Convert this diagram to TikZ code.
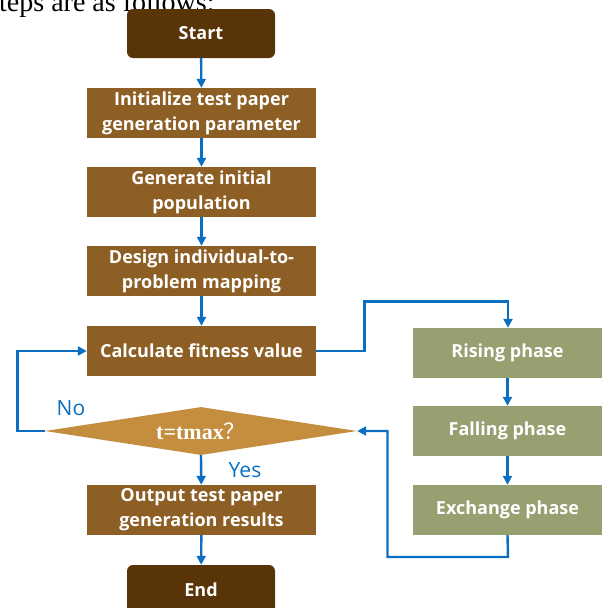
\documentclass[tikz,border=0pt]{standalone}
\usepackage{fontspec}
\setmainfont{Liberation Serif}
\newfontfamily\boxfont{Open Sans}
\newfontfamily\lblfont{Open Sans}
\newfontfamily\cjkq{Noto Sans CJK SC}
\usetikzlibrary{shapes.geometric,arrows.meta}
\definecolor{darkbrown}{HTML}{583408}
\definecolor{midbrown}{HTML}{8E5F25}
\definecolor{goldbrown}{HTML}{C48E3E}
\definecolor{olive}{HTML}{96A070}
\definecolor{lineblue}{HTML}{0A6FC2}
\tikzset{
  box/.style={rectangle, fill=midbrown, minimum width=229pt, minimum height=50pt, inner sep=0pt,
    text=white, align=center, font=\boxfont\bfseries\fontsize{18}{25}\selectfont},
  term/.style={box, fill=darkbrown, rounded corners=6pt, minimum width=148pt, minimum height=49pt},
  phase/.style={box, fill=olive, minimum width=189pt},
  decision/.style={diamond, fill=goldbrown, aspect=6.5, minimum width=312pt, minimum height=48pt, inner sep=0pt,
    text=white, font=\bfseries\fontsize{22}{24}\selectfont},
  flow/.style={draw=lineblue, line width=2.4pt, -{Triangle[length=9pt,width=9pt]}},
  lbl/.style={text=lineblue, font=\lblfont\fontsize{21}{24}\selectfont}
}
\begin{document}
\begin{tikzpicture}[x=1pt,y=-1pt]
\useasboundingbox (0,0) rectangle (604,608);
\node[anchor=base west, inner sep=0pt, font=\fontsize{28}{30}\selectfont] (intro) at (-1,11) {teps are as follows:};
\node[term] (start) at (201,33.5) {Start};
\node[box] (init) at (201.5,113) {Initialize test paper\\generation parameter};
\node[box] (gen) at (201.5,192) {Generate initial\\population};
\node[box] (design) at (201.5,271) {Design individual-to-\\problem mapping};
\node[box] (calc) at (201.5,351) {Calculate fitness value};
\node[decision] (dec) at (201,431) {t=tmax{\cjkq\mdseries ？}};
\node[box] (out) at (201.5,510) {Output test paper\\generation results};
\node[term, minimum height=50pt] (end) at (201,590) {End};
\node[phase] (rise) at (507.5,353) {Rising phase};
\node[phase] (fall) at (507.5,431) {Falling phase};
\node[phase] (exch) at (507.5,510) {Exchange phase};
\draw[flow] (start) -- (init);
\draw[flow] (init) -- (gen);
\draw[flow] (gen) -- (design);
\draw[flow] (design) -- (calc);
\draw[flow] (dec.south) -- (out);
\draw[flow] (out) -- (end);
\draw[flow] (calc.east) -- (364.5,351) -- (364.5,301.5) -- (508,301.5) -- (rise.north -| 508,0);
\draw[flow] (rise) -- (fall);
\draw[flow] (fall) -- (exch);
\draw[flow] (exch.south) -- (508,557) -- (387.5,557) -- (387.5,431) -- (dec.east);
\draw[flow] (dec.west) -- (17.5,431) -- (17.5,351) -- (calc.west);
\node[lbl] (no) at (71,408) {No};
\node[lbl] (yes) at (245,470) {Yes};
\end{tikzpicture}
\end{document}
